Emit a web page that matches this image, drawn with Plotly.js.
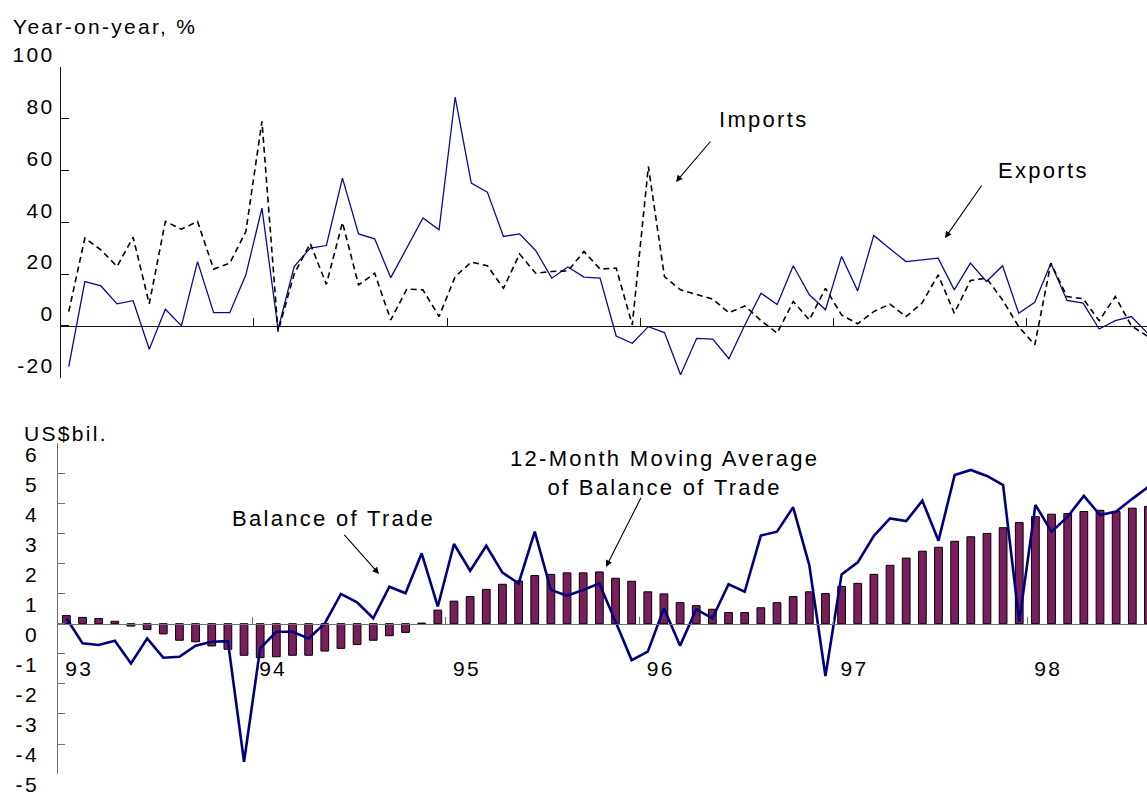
<!DOCTYPE html>
<html>
<head>
<meta charset="utf-8">
<script src="https://cdn.plot.ly/plotly-3.0.1.min.js"></script>
<style>
  html, body { margin: 0; padding: 0; background: #fff; }
  #chart { width: 1147px; height: 794px; }
  text { letter-spacing: 2.3px; }
</style>
</head>
<body>
<div id="chart"></div>
<script>
// ---- Data (monthly, Jan 1993 .. Aug 1998) ----
const yearLabels = ['93', '94', '95', '96', '97', '98'];
const months = [];
yearLabels.forEach(function (y) {
  ['Jan','Feb','Mar','Apr','May','Jun','Jul','Aug','Sep','Oct','Nov','Dec'].forEach(function (m) {
    months.push(m + '-' + y);
  });
});
months.length = 68;

// Year-on-year growth, %
const exportsYoY = [
  -15.7, 17.1, 15.4, 8.5, 9.7, -9.0, 6.4, 0.0, 24.8, 5.1, 5.1, 19.7,
  45.4, -1.3, 22.9, 30.0, 31.0, 57.0, 35.5, 33.6, 18.6, 30.0, 41.6, 37.1,
  88.3, 55.1, 51.6, 34.5, 35.5, 29.1, 18.4, 22.7, 18.8, 18.4, -3.9, -6.7,
  -0.3, -2.6, -18.9, -4.8, -5.1, -12.7, 0.4, 12.6, 8.2, 23.2, 12.0, 6.2,
  26.8, 13.5, 34.9, 29.8, 24.8, 25.5, 26.1, 13.9, 24.2, 17.1, 23.2, 4.9,
  9.1, 24.2, 9.8, 8.8, -1.2, 2.0, 3.6, -2.8
];
const importsYoY = [
  5.5, 33.9, 29.3, 22.9, 34.2, 8.5, 40.3, 37.3, 40.3, 21.9, 24.2, 36.4,
  78.9, -2.2, 20.0, 31.8, 16.0, 39.9, 15.8, 20.3, 2.3, 14.2, 13.9, 3.6,
  19.0, 24.6, 23.2, 14.5, 27.7, 20.3, 21.0, 21.2, 28.7, 21.9, 22.3, 0.4,
  61.5, 19.0, 13.9, 12.0, 10.3, 5.1, 7.7, 2.0, -2.8, 9.4, 2.3, 14.5,
  4.2, 0.8, 5.5, 8.4, 3.6, 8.8, 19.7, 4.9, 17.5, 18.4, 10.0, -0.3,
  -7.3, 24.2, 11.3, 10.5, 2.0, 11.3, 0.0, -4.0
];

// US$ billion
const balanceOfTrade = [
  0.18, -0.65, -0.71, -0.57, -1.32, -0.49, -1.13, -1.10, -0.73, -0.60, -0.58, -4.59,
  -0.82, -0.27, -0.27, -0.49, 0.01, 0.99, 0.71, 0.18, 1.23, 1.01, 2.34, 0.57,
  2.65, 1.76, 2.59, 1.70, 1.34, 3.06, 1.12, 0.93, 1.12, 1.34, 0.07, -1.21,
  -0.93, 0.51, -0.73, 0.48, 0.18, 1.31, 1.06, 2.93, 3.06, 3.87, 1.95, -1.74,
  1.64, 2.04, 2.92, 3.50, 3.41, 4.09, 2.76, 4.94, 5.11, 4.91, 4.61, 0.07,
  3.95, 3.06, 3.56, 4.25, 3.61, 3.73, 4.15, 4.55
];
const movingAverage12 = [
  0.27, 0.21, 0.17, 0.08, -0.08, -0.19, -0.34, -0.55, -0.60, -0.74, -0.85, -1.05,
  -1.13, -1.10, -1.05, -1.05, -0.91, -0.82, -0.69, -0.55, -0.40, -0.29, 0.02, 0.45,
  0.75, 0.90, 1.14, 1.31, 1.42, 1.60, 1.64, 1.69, 1.69, 1.72, 1.51, 1.41,
  1.06, 0.99, 0.70, 0.60, 0.48, 0.37, 0.37, 0.53, 0.70, 0.90, 1.06, 1.00,
  1.24, 1.34, 1.64, 1.94, 2.18, 2.41, 2.54, 2.74, 2.89, 3.00, 3.19, 3.36,
  3.56, 3.64, 3.66, 3.73, 3.77, 3.73, 3.84, 3.90
];

const topTicks = [-20, 0, 20, 40, 60, 80, 100];
const bottomTicks = [-5, -4, -3, -2, -1, 0, 1, 2, 3, 4, 5, 6];

// ---- Layout helpers ----
const W = 1147, H = 794;
const fx = function (p) { return p / W; };
const fy = function (p) { return (H - p) / H; };
const idx = months.map(function (_, i) { return i; });
const yearBounds = yearLabels.map(function (_, k) { return 12 * k - 0.5; });
const FONT = 'Liberation Sans, Arial, Helvetica, sans-serif';

const traces = [
  {
    x: idx, y: exportsYoY, xaxis: 'x', yaxis: 'y', type: 'scatter', mode: 'lines',
    name: 'Exports', line: { color: '#0a0a96', width: 1.3 }
  },
  {
    x: idx, y: importsYoY, xaxis: 'x', yaxis: 'y', type: 'scatter', mode: 'lines',
    name: 'Imports', line: { color: '#000000', width: 1.6, dash: '6px,4px' }
  },
  {
    x: idx, y: movingAverage12, xaxis: 'x2', yaxis: 'y2', type: 'bar',
    name: '12-Month Moving Average of Balance of Trade',
    marker: { color: '#7b1f5c', line: { color: '#000000', width: 1 } }
  },
  {
    x: idx, y: balanceOfTrade, xaxis: 'x2', yaxis: 'y2', type: 'scatter', mode: 'lines',
    name: 'Balance of Trade', line: { color: '#00007f', width: 2.6 }
  }
];

const textFont = { family: FONT, size: 22, color: '#000' };

function label(text, x, y, xanchor, size) {
  return {
    xref: 'paper', yref: 'paper', x: fx(x), y: fy(y), text: text,
    showarrow: false, xanchor: xanchor, yanchor: 'middle',
    font: { family: FONT, size: size || 22, color: '#000' }
  };
}
function arrow(hx, hy, ax, ay) {
  return {
    xref: 'paper', yref: 'paper', x: fx(hx), y: fy(hy), text: '',
    showarrow: true, ax: ax, ay: ay, axref: 'pixel', ayref: 'pixel',
    arrowhead: 2, arrowsize: 1.2, arrowwidth: 1.1, arrowcolor: '#000', standoff: 0
  };
}

const layout = {
  width: W, height: H,
  margin: { l: 0, r: 0, t: 0, b: 0, pad: 0 },
  paper_bgcolor: '#ffffff', plot_bgcolor: '#ffffff',
  showlegend: false,
  bargap: 0.52,
  font: { family: FONT, size: 21, color: '#000' },
  xaxis: {
    domain: [fx(60.7), 1], range: [-0.5, 66.97], anchor: 'free', position: fy(326),
    showline: true, linecolor: '#111', linewidth: 1,
    ticks: 'inside', ticklen: 8, tickcolor: '#111', tickmode: 'array', tickvals: yearBounds,
    showticklabels: false, showgrid: false, zeroline: false
  },
  yaxis: {
    domain: [fy(377.7), fy(66.7)], range: [-20, 100], anchor: 'x',
    showline: true, linecolor: '#111', linewidth: 1,
    ticks: 'inside', ticklen: 8, tickcolor: '#111',
    tickmode: 'array', tickvals: topTicks, ticktext: topTicks.map(String),
    ticklabelshift: -12, ticklabelstandoff: 1, ticklabeloverflow: 'allow',
    tickfont: { family: FONT, size: 21, color: '#000' },
    showgrid: false, zeroline: false
  },
  xaxis2: {
    domain: [fx(58.3), 1], range: [-0.5, 66.91], anchor: 'free', position: fy(623.7),
    showline: true, linecolor: '#707070', linewidth: 1.2,
    ticks: 'inside', ticklen: 7, tickcolor: '#707070', tickmode: 'array',
    tickvals: yearBounds, ticktext: yearLabels,
    ticklabelshift: 21, ticklabelstandoff: 26, ticklabeloverflow: 'allow',
    tickfont: { family: FONT, size: 21, color: '#000' },
    showgrid: false, zeroline: false
  },
  yaxis2: {
    domain: [fy(774.1), fy(443.2)], range: [-5, 6], anchor: 'x2',
    showline: true, linecolor: '#707070', linewidth: 1.2,
    ticks: 'inside', ticklen: 7, tickcolor: '#707070',
    tickmode: 'array', tickvals: bottomTicks, ticktext: bottomTicks.map(String),
    ticklabelshift: 11, ticklabelstandoff: 14, ticklabeloverflow: 'allow',
    tickfont: { family: FONT, size: 21, color: '#000' },
    showgrid: false, zeroline: false
  },
  annotations: [
    label('Year-on-year, %', 11, 26.5, 'left', 21),
    label('US$bil.', 22, 433, 'left', 21),
    label('Imports', 717, 119, 'left'),
    label('Exports', 996, 171, 'left'),
    label('Balance of Trade', 230, 519, 'left'),
    {
      xref: 'paper', yref: 'paper', x: fx(664), y: fy(473), text: '12-Month Moving Average<br>of Balance of Trade',
      showarrow: false, xanchor: 'center', yanchor: 'middle', align: 'center',
      font: textFont
    },
    arrow(676, 182, 35.7, -42),
    arrow(945, 238, 37.7, -54),
    arrow(379, 574, -36, -40.7),
    arrow(606, 567, 35.7, -70.7)
  ]
};

Plotly.newPlot('chart', traces, layout, { staticPlot: true, displayModeBar: false });
</script>
</body>
</html>
